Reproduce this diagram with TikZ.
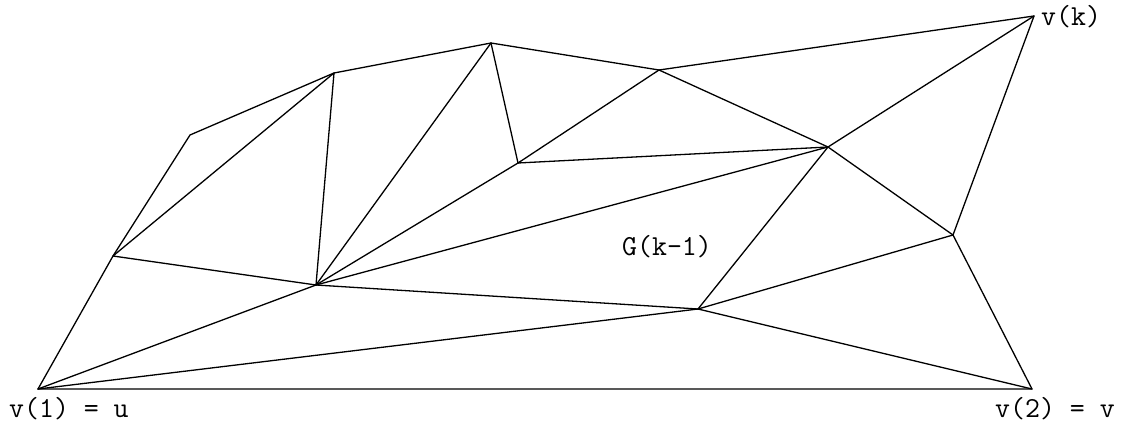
\documentclass[tikz,border=0pt]{standalone}
\begin{document}
\begin{tikzpicture}[x=1pt,y=-1pt,
  edge/.style={line width=1.3pt, line join=round, line cap=round},
  lbl/.style={font=\ttfamily\fontsize{29}{29}\selectfont, inner sep=0pt, anchor=base west}]
\useasboundingbox (0,0) rectangle (1135,423);
\coordinate (A) at (38,389);
\coordinate (B) at (1032,389);
\coordinate (C) at (1034,16);
\coordinate (D) at (113,256);
\coordinate (E) at (190,135);
\coordinate (F) at (334,73);
\coordinate (G) at (491,43);
\coordinate (H) at (659,70);
\coordinate (I) at (828,147);
\coordinate (J) at (518,163);
\coordinate (K) at (316,285);
\coordinate (L) at (698,309);
\coordinate (M) at (953,235);
% outer face
\draw[edge] (A) -- (B) -- (M) -- (C) -- (H) -- (G) -- (F) -- (E) -- (D) -- cycle;
% interior edges
\draw[edge] (A) -- (K);
\draw[edge] (A) -- (L);
\draw[edge] (D) -- (K);
\draw[edge] (D) -- (F);
\draw[edge] (F) -- (K);
\draw[edge] (G) -- (K);
\draw[edge] (G) -- (J);
\draw[edge] (J) -- (H);
\draw[edge] (J) -- (I);
\draw[edge] (K) -- (J);
\draw[edge] (K) -- (I);
\draw[edge] (K) -- (L);
\draw[edge] (H) -- (I);
\draw[edge] (I) -- (C);
\draw[edge] (I) -- (M);
\draw[edge] (I) -- (L);
\draw[edge] (L) -- (M);
\draw[edge] (L) -- (B);
% labels
\node[lbl] (l1) at (9,417) {v(1) = u};
\node[lbl] (l2) at (995,417) {v(2) = v};
\node[lbl] (lk) at (1041,25) {v(k)};
\node[lbl] (lg) at (622,255) {G(k-1)};
\end{tikzpicture}
\end{document}
